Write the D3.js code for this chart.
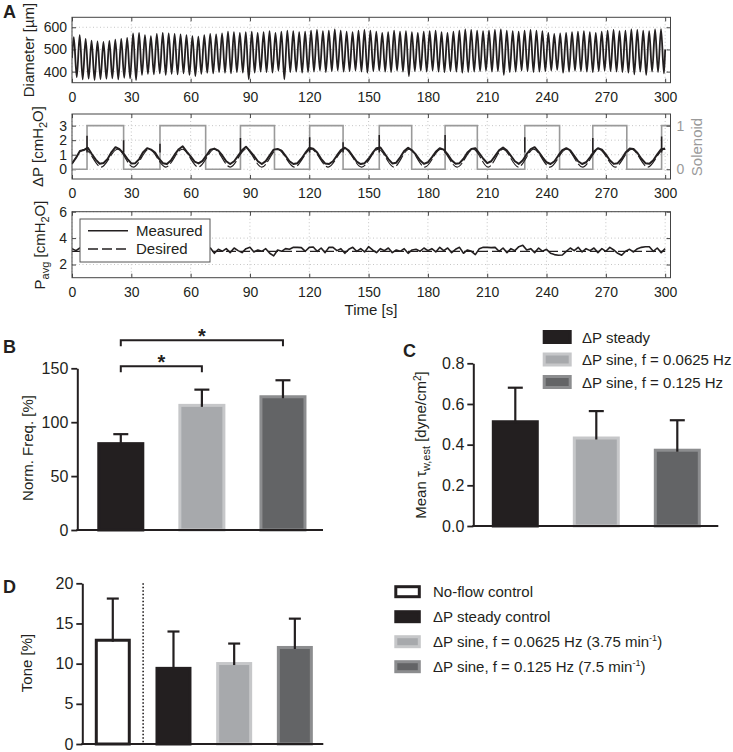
<!DOCTYPE html>
<html>
<head>
<meta charset="utf-8">
<script src="https://cdn.jsdelivr.net/npm/d3@7"></script>
<style>
  body { margin: 0; background: #fff; }
  svg { font-family: "Liberation Sans", Arial, Helvetica, sans-serif; }
</style>
</head>
<body>
<svg id="fig" width="733" height="752"></svg>
<script>
// ---- panel A : time traces ----
const timeTicks = [0, 30, 60, 90, 120, 150, 180, 210, 240, 270, 300];
const diamTicks = [400, 500, 600];
const dpTicks = [0, 1, 2, 3];
const solenoidTicks = [0, 1];
const pavgTicks = [2, 4, 6];

// diameter oscillation: one peak and one trough per ~3 s cycle
const diamCycle = 3;
const diamStart = 460;
const diamPeaks = [
  555, 565, 548, 540, 536, 534, 538, 544, 548, 552,
  572, 575, 565, 560, 570, 575, 572, 570, 568, 565,
  560, 558, 565, 570, 568, 572, 580, 578, 575, 578,
  580, 575, 578, 582, 575, 580, 585, 582, 578, 580,
  585, 588, 582, 585, 590, 585, 580, 578, 585, 588,
  585, 580, 575, 578, 585, 580, 582, 578, 575, 580,
  582, 585, 578, 575, 580, 585, 590, 588, 585, 582,
  585, 588, 590, 585, 582, 580, 585, 588, 585, 582,
  575, 570, 572, 575, 578, 580, 582, 578, 575, 580,
  585, 588, 582, 585, 590, 588, 585, 582, 590, 592
];
const diamTroughs = [
  375, 365, 368, 362, 366, 368, 370, 365, 372, 370,
  362, 385, 390, 388, 392, 385, 390, 388, 392, 385,
  380, 390, 395, 392, 398, 395, 392, 398, 395, 365,
  395, 400, 398, 395, 405, 365, 398, 400, 395, 398,
  400, 405, 398, 402, 405, 400, 402, 405, 400, 395,
  402, 405, 400, 398, 405, 400, 380, 402, 405, 400,
  405, 400, 398, 402, 400, 395, 398, 400, 402, 405,
  400, 402, 385, 398, 400, 405, 402, 398, 400, 402,
  405, 408, 395, 400, 405, 402, 400, 398, 402, 405,
  402, 400, 398, 395, 388, 400, 385, 400, 398, 392
];

// solenoid switching times [s]: on, off, on, off, ...
const solenoidSwitchT = [7.6, 26.1, 44.5, 67.6, 85.2, 102.4, 120.2, 137.1, 155.4,
  171.8, 188.7, 205.0, 229.0, 246.6, 263.4, 280.6, 298.2];

// measured ΔP, sampled every 2 s
const dpStep = 2;
const dpMeasured = [
  0.40, 0.78, 1.25, 1.32, 1.48, 1.05, 0.66, 0.38, 0.43, 0.70, 1.18,
  1.52, 1.38, 1.10, 0.72, 0.40, 0.42, 0.70, 1.18, 1.45, 1.35,
  1.15, 0.72, 0.42, 0.36, 0.60, 1.02, 1.38, 1.58, 1.22, 0.88,
  0.52, 0.40, 0.58, 0.95, 1.35, 1.42, 1.28, 0.95, 0.55, 0.36,
  0.55, 0.92, 1.30, 1.55, 1.25, 0.92, 0.55, 0.36, 0.56, 0.95,
  1.35, 1.40, 1.28, 0.92, 0.55, 0.36, 0.42, 0.72, 1.12, 1.48,
  1.42, 1.15, 0.72, 0.40, 0.36, 0.55, 0.95, 1.32, 1.48, 1.28,
  0.90, 0.52, 0.36, 0.42, 0.72, 1.12, 1.45, 1.50, 1.10, 0.70,
  0.40, 0.45, 0.82, 1.25, 1.48, 1.30, 1.00, 0.62, 0.37, 0.48,
  0.82, 1.20, 1.45, 1.35, 1.02, 0.62, 0.38, 0.42, 0.72, 1.15,
  1.40, 1.45, 1.10, 0.72, 0.42, 0.55, 0.92, 1.30, 1.50, 1.28,
  0.92, 0.55, 0.37, 0.62, 1.05, 1.38, 1.52, 1.20, 0.82, 0.48,
  0.36, 0.55, 0.95, 1.32, 1.45, 1.30, 0.92, 0.55, 0.36, 0.48,
  0.82, 1.22, 1.45, 1.35, 1.02, 0.62, 0.37, 0.42, 0.72, 1.15,
  1.42, 1.40, 1.12, 0.72, 0.42, 0.38, 0.62, 1.02, 1.38, 1.42
];
// pressure spikes at the valve switches
const dpSpikeT = [7.6, 26.1, 44.5, 85.2, 120.2, 137.1, 155.4, 188.7, 229.0, 263.4, 298.2];
const dpSpikeV = [2.3, 2.0, 1.75, 2.15, 2.2, 1.85, 2.35, 2.35, 2.2, 2.15, 2.25];
// desired ΔP turning points
const dpDesiredT = [0, 6.5, 14.75, 23, 31, 39, 47.4, 55.8, 63.9, 72, 80, 88, 96, 104,
  112.5, 121, 129.5, 138, 146.5, 155, 162.75, 170.5, 178.5, 186.5, 194.75, 203, 210.5,
  218, 225.75, 233.5, 241.75, 250, 258.25, 266.5, 274.75, 283, 291.25, 299.5];
const dpDesiredV = [0.35, 1.38, 0.15, 1.38, 0.15, 1.38, 0.15, 1.38, 0.15, 1.38, 0.15,
  1.38, 0.15, 1.38, 0.15, 1.38, 0.15, 1.38, 0.15, 1.38, 0.15, 1.38, 0.15, 1.38, 0.15,
  1.38, 0.15, 1.38, 0.15, 1.38, 0.15, 1.38, 0.15, 1.38, 0.15, 1.38, 0.15, 1.38];

// measured mean pressure, every 2 s
const pavgStep = 2;
const pavgMeasured = [
  3.2, 3.05, 3.25, 3.1, 2.95, 3.2, 3.05, 3.15, 2.9, 3.1, 3.2,
  3.0, 3.15, 2.95, 3.2, 3.05, 3.25, 3.0, 3.1, 2.9, 3.15,
  3.05, 3.2, 2.95, 3.1, 3.25, 3.0, 3.15, 2.9, 3.1, 3.2,
  3.05, 2.95, 3.2, 3.0, 3.25, 2.85, 3.15, 3.0, 3.2, 2.9,
  3.25, 3.05, 2.9, 3.2, 3.3, 2.95, 3.1, 3.0, 3.2, 2.85,
  2.65, 3.1, 3.0, 3.2, 3.15, 3.3, 3.3, 3.28, 3.0, 3.3,
  3.32, 3.0, 3.25, 2.9, 3.3, 3.3, 3.05, 3.2, 2.85, 3.15,
  3.3, 3.0, 3.2, 2.95, 3.35, 3.1, 2.9, 3.2, 3.05, 3.25,
  2.9, 3.1, 3.0, 3.2, 2.85, 3.1, 3.15, 3.0, 3.25, 3.05,
  3.2, 2.95, 3.3, 3.05, 3.25, 2.9, 3.15, 3.3, 2.85, 3.1,
  3.0, 2.75, 3.2, 3.3, 3.3, 3.28, 3.3, 3.0, 3.25, 2.9,
  3.2, 3.05, 3.35, 3.45, 3.1, 3.2, 2.9, 3.25, 3.0, 3.15,
  2.85, 2.75, 2.7, 2.72, 3.0, 3.25, 3.05, 3.3, 2.95, 3.2,
  3.05, 3.25, 2.9, 3.2, 3.0, 3.3, 3.1, 2.85, 2.7, 3.0,
  3.15, 2.95, 3.2, 3.3, 3.35, 3.35, 3.0, 3.25, 2.9, 3.2
];
const pavgDesired = 3;

// ---- panels B, C, D : bar charts ----
const flowGroups = ['ΔP steady', 'ΔP sine, f = 0.0625 Hz', 'ΔP sine, f = 0.125 Hz'];
const freqMean = [81.5, 117, 125];
const freqSem = [7.4, 13.2, 13.9];
const freqTicks = [0, 50, 100, 150];
const sigFrom = [0, 0];
const sigTo = [1, 2];
const sigLevel = [152, 176];
const shearMean = [0.52, 0.44, 0.38];
const shearSem = [0.16, 0.125, 0.14];
const shearTicks = [0, 0.2, 0.4, 0.6, 0.8];
const toneGroups = ['No-flow control', 'ΔP steady control',
  'ΔP sine, f = 0.0625 Hz (3.75 min', 'ΔP sine, f = 0.125 Hz (7.5 min'];
const toneSup = ['', '', '-1', '-1'];
const toneMean = [13.1, 9.6, 10.2, 12.2];
const toneSem = [5.0, 4.4, 2.3, 3.4];
const toneTicks = [0, 5, 10, 15, 20];

const ink = '#231f20';
const barFill = ['#231f20', '#a7a9ac', '#636466'];
const barEdge = ['#231f20', '#c6c7c9', '#8c8d8f'];
const toneFill = ['#ffffff', '#231f20', '#a7a9ac', '#636466'];
const toneEdge = ['#231f20', '#231f20', '#c6c7c9', '#8c8d8f'];

const svg = d3.select('#fig');
svg.append('rect').attr('width', 733).attr('height', 752).attr('fill', '#fff');

function panelLabel(txt, x, y) {
  svg.append('text').attr('x', x).attr('y', y)
    .attr('font-size', 18).attr('font-weight', 'bold').attr('fill', ink).text(txt);
}

// rotated axis title; parts = [{t, dy, size}]
function yTitle(cx, cy, parts, size, color) {
  const t = svg.append('text')
    .attr('transform', `translate(${cx + size * 0.35},${cy}) rotate(-90)`)
    .attr('text-anchor', 'middle').attr('font-size', size).attr('fill', color || ink);
  parts.forEach(p => {
    t.append('tspan').attr('dy', p.dy || null).attr('font-size', p.size || null).text(p.t);
  });
}

function styleAxis(sel, size, color) {
  sel.attr('font-family', null).attr('font-size', size);
  sel.select('.domain').remove();
  sel.selectAll('text').attr('fill', color || ink);
  sel.selectAll('.tick line').attr('stroke', '#444');
}

// ---------------- Panel A ----------------
const xTime = d3.scaleLinear().domain([0, 302.7]).range([72, 670.5]);
const [ax0, ax1] = xTime.range();

function timeFrame(id, top, bottom, yDomain, yTicks, rightTicks) {
  const y = d3.scaleLinear().domain(yDomain).range([bottom, top]);
  const g = svg.append('g');
  g.append('clipPath').attr('id', id).append('rect')
    .attr('x', ax0).attr('y', top).attr('width', ax1 - ax0).attr('height', bottom - top);

  const grid = g.append('g').attr('stroke', '#b8b8b8').attr('stroke-width', 0.8)
    .attr('stroke-dasharray', '1,2.5');
  grid.selectAll('.gx').data(timeTicks).join('line')
    .attr('x1', d => xTime(d)).attr('x2', d => xTime(d)).attr('y1', top).attr('y2', bottom);
  grid.selectAll('.gy').data(yTicks).join('line')
    .attr('x1', ax0).attr('x2', ax1).attr('y1', d => y(d)).attr('y2', d => y(d));

  g.append('g').attr('transform', `translate(0,${bottom})`)
    .call(d3.axisBottom(xTime).tickValues(timeTicks).tickSize(-4).tickPadding(9))
    .call(s => styleAxis(s, 14));
  g.append('g').attr('transform', `translate(0,${top})`)
    .call(d3.axisTop(xTime).tickValues(timeTicks).tickSize(-4).tickFormat(''))
    .call(s => styleAxis(s, 14));
  g.append('g').attr('transform', `translate(${ax0},0)`)
    .call(d3.axisLeft(y).tickValues(yTicks).tickFormat(d3.format('d')).tickSize(-4).tickPadding(5))
    .call(s => styleAxis(s, 14));
  if (rightTicks) {
    g.append('g').attr('transform', `translate(${ax1},0)`)
      .call(d3.axisRight(y).tickValues(yTicks).tickSize(-4).tickFormat(''))
      .call(s => styleAxis(s, 14));
  }
  const traces = g.append('g').attr('clip-path', `url(#${id})`);
  g.append('rect').attr('x', ax0).attr('y', top).attr('width', ax1 - ax0)
    .attr('height', bottom - top).attr('fill', 'none').attr('stroke', '#444').attr('stroke-width', 1);
  return { y, g, traces };
}

// A1 diameter
const a1 = timeFrame('clipA1', 17.3, 82.7, [350, 645], diamTicks, true);
const diamPts = [[0, diamStart]];
diamPeaks.forEach((p, i) => {
  diamPts.push([i * diamCycle + 0.9, p]);
  diamPts.push([i * diamCycle + 2.4, diamTroughs[i]]);
});
diamPts.push([300, 500]);
a1.traces.append('path').datum(diamPts)
  .attr('d', d3.line().x(d => xTime(d[0])).y(d => a1.y(d[1])).curve(d3.curveMonotoneX))
  .attr('fill', 'none').attr('stroke', ink).attr('stroke-width', 1.8);
yTitle(29, 50, [{ t: 'Diameter [µm]' }], 15);

// A2 ΔP + solenoid
const a2 = timeFrame('clipA2', 114, 179, [-0.67, 3.8], dpTicks, false);
const ySol = d3.scaleLinear().domain([0, 1]).range([a2.y(0), a2.y(3)]);
const solPts = [[0, 0]];
solenoidSwitchT.forEach((t, i) => solPts.push([t, i % 2 === 0 ? 1 : 0]));
solPts.push([302.7, solPts[solPts.length - 1][1]]);
a2.traces.append('path').datum(solPts)
  .attr('d', d3.line().x(d => xTime(d[0])).y(d => ySol(d[1])).curve(d3.curveStepAfter))
  .attr('fill', 'none').attr('stroke', '#9a9a9a').attr('stroke-width', 1.6);
a2.traces.append('path').datum(dpDesiredT.map((t, i) => [t, dpDesiredV[i]]).concat([[300, 1.36]]))
  .attr('d', d3.line().x(d => xTime(d[0])).y(d => a2.y(d[1])).curve(d3.curveMonotoneX))
  .attr('fill', 'none').attr('stroke', ink).attr('stroke-width', 1.1).attr('stroke-dasharray', '12,3');
a2.traces.append('path').datum(dpMeasured.map((v, i) => [i * dpStep, v]))
  .attr('d', d3.line().x(d => xTime(d[0])).y(d => a2.y(d[1])))
  .attr('fill', 'none').attr('stroke', ink).attr('stroke-width', 2).attr('stroke-linejoin', 'round');
a2.traces.selectAll('.spike').data(dpSpikeT).join('line')
  .attr('x1', d => xTime(d)).attr('x2', d => xTime(d))
  .attr('y1', a2.y(1.15)).attr('y2', (d, i) => a2.y(dpSpikeV[i]))
  .attr('stroke', ink).attr('stroke-width', 1.5);
a2.g.append('g').attr('transform', `translate(${ax1},0)`)
  .call(d3.axisRight(ySol).tickValues(solenoidTicks).tickFormat(d3.format('d')).tickSize(-4).tickPadding(6))
  .call(s => styleAxis(s, 14, '#9a9a9a'));
yTitle(38, 146.5, [{ t: 'ΔP [cmH' }, { t: '2', dy: 4, size: 11 }, { t: 'O]', dy: -4 }], 15);
yTitle(697, 147, [{ t: 'Solenoid' }], 15, '#9a9a9a');

// A3 mean pressure
const a3 = timeFrame('clipA3', 211.7, 277.7, [1, 6], pavgTicks, true);
a3.traces.append('line').attr('x1', xTime(0)).attr('x2', xTime(300))
  .attr('y1', a3.y(pavgDesired)).attr('y2', a3.y(pavgDesired))
  .attr('stroke', ink).attr('stroke-width', 1.2).attr('stroke-dasharray', '10,4');
a3.traces.append('path').datum(pavgMeasured.map((v, i) => [i * pavgStep, v]))
  .attr('d', d3.line().x(d => xTime(d[0])).y(d => a3.y(d[1])))
  .attr('fill', 'none').attr('stroke', ink).attr('stroke-width', 1.6).attr('stroke-linejoin', 'round');
yTitle(40, 245, [{ t: 'P' }, { t: 'avg', dy: 4, size: 11 }, { t: ' [cmH', dy: -4 }, { t: '2', dy: 4, size: 11 }, { t: 'O]', dy: -4 }], 15);
// legend
const lg = a3.g.append('g');
lg.append('rect').attr('x', 80).attr('y', 219).attr('width', 130).attr('height', 43)
  .attr('fill', '#fff').attr('stroke', '#555').attr('stroke-width', 1);
lg.append('line').attr('x1', 88).attr('x2', 128).attr('y1', 230.7).attr('y2', 230.7)
  .attr('stroke', ink).attr('stroke-width', 1.6);
lg.append('line').attr('x1', 88).attr('x2', 128).attr('y1', 249).attr('y2', 249)
  .attr('stroke', ink).attr('stroke-width', 1.4).attr('stroke-dasharray', '10,4');
lg.append('text').attr('x', 136).attr('y', 236).attr('font-size', 15).attr('fill', ink).text('Measured');
lg.append('text').attr('x', 136).attr('y', 254).attr('font-size', 15).attr('fill', ink).text('Desired');

svg.append('text').attr('x', 371).attr('y', 315).attr('text-anchor', 'middle')
  .attr('font-size', 15).attr('fill', ink).text('Time [s]');
panelLabel('A', 3, 18);

// ---------------- Bar panels ----------------
function barPanel(o) {
  const n = o.mean.length;
  const x = d3.scaleBand().domain(d3.range(n)).range(o.band)
    .paddingInner(o.pad).paddingOuter(o.pad / 2);
  const y = d3.scaleLinear().domain(o.yDomain).range([o.bottom, o.top]);
  const g = svg.append('g');
  const bw = x.bandwidth();
  const sw = o.edgeWidth;

  g.selectAll('.bar').data(o.mean).join('rect')
    .attr('x', (d, i) => x(i) + sw / 2)
    .attr('y', d => y(d) + sw / 2)
    .attr('width', bw - sw)
    .attr('height', d => y(0) - y(d) - sw / 2)
    .attr('fill', (d, i) => o.fill[i])
    .attr('stroke', (d, i) => o.edge[i])
    .attr('stroke-width', sw);

  const err = g.append('g').attr('stroke', ink).attr('stroke-width', 2.2);
  o.mean.forEach((m, i) => {
    const cx = x(i) + bw / 2;
    err.append('line').attr('x1', cx).attr('x2', cx)
      .attr('y1', y(m) + sw).attr('y2', y(m + o.sem[i]));
    err.append('line').attr('x1', cx - o.cap / 2).attr('x2', cx + o.cap / 2)
      .attr('y1', y(m + o.sem[i])).attr('y2', y(m + o.sem[i]));
  });

  g.append('g').attr('transform', `translate(${o.axisX},0)`)
    .call(d3.axisLeft(y).tickValues(o.ticks).tickFormat(o.fmt).tickSize(6).tickSizeOuter(0).tickPadding(3))
    .call(s => {
      s.attr('font-family', null).attr('font-size', 16);
      s.select('.domain').attr('stroke', ink).attr('stroke-width', 2);
      s.selectAll('.tick line').attr('stroke', ink).attr('stroke-width', 1.8);
      s.selectAll('text').attr('fill', ink);
    });
  g.append('line').attr('x1', o.axisX - 1).attr('x2', o.xEnd)
    .attr('y1', y(0)).attr('y2', y(0)).attr('stroke', ink).attr('stroke-width', 2.2);
  return { x, y, g, bw };
}

// B
const pB = barPanel({
  band: [80.25, 323.5], pad: 0.42, top: 368.3, bottom: 530, yDomain: [0, 150],
  ticks: freqTicks, fmt: d3.format('d'), mean: freqMean, sem: freqSem,
  fill: barFill, edge: barEdge, edgeWidth: 3, cap: 15, axisX: 77.3, xEnd: 323
});
sigFrom.forEach((a, k) => {
  const xa = pB.x(a) + pB.bw / 2, xb = pB.x(sigTo[k]) + pB.bw / 2;
  const yb = pB.y(sigLevel[k]);
  pB.g.append('path')
    .attr('d', `M${xa},${yb + 6}V${yb}H${xb}V${yb + 6}`)
    .attr('fill', 'none').attr('stroke', ink).attr('stroke-width', 2);
  pB.g.append('text').attr('x', (xa + xb) / 2).attr('y', yb + 3).attr('text-anchor', 'middle')
    .attr('font-size', 20).attr('font-weight', 'bold').attr('fill', ink).text('*');
});
yTitle(28, 448, [{ t: 'Norm. Freq. [%]' }], 15);
panelLabel('B', 3, 353);

// C
const pC = barPanel({
  band: [474.8, 717.8], pad: 0.42, top: 363.3, bottom: 526, yDomain: [0, 0.8],
  ticks: shearTicks, fmt: d3.format('.1f'), mean: shearMean, sem: shearSem,
  fill: barFill, edge: barEdge, edgeWidth: 3, cap: 15, axisX: 473.3, xEnd: 718.3
});
yTitle(421, 445, [{ t: 'Mean τ' }, { t: 'w,est', dy: 4, size: 11 }, { t: ' [dyne/cm', dy: -4 },
  { t: '2', dy: -5, size: 10 }, { t: ']', dy: 5 }], 15);
panelLabel('C', 403, 357);
const lgC = svg.append('g');
flowGroups.forEach((name, i) => {
  const cy = 337 + i * 22.5;
  lgC.append('rect').attr('x', 544.2).attr('y', cy - 5.5).attr('width', 26).attr('height', 11)
    .attr('fill', barFill[i]).attr('stroke', barEdge[i]).attr('stroke-width', 3);
  lgC.append('text').attr('x', 582).attr('y', cy + 5.5).attr('font-size', 15).attr('fill', ink).text(name);
});

// D
const pD = barPanel({
  band: [82.45, 325.2], pad: 0.407, top: 583.3, bottom: 744, yDomain: [0, 20],
  ticks: toneTicks, fmt: d3.format('d'), mean: toneMean, sem: toneSem,
  fill: toneFill, edge: toneEdge, edgeWidth: 3, cap: 12, axisX: 82.3, xEnd: 323.3
});
const sepX = (pD.x(0) + pD.bw + pD.x(1)) / 2;
pD.g.append('line').attr('x1', sepX).attr('x2', sepX).attr('y1', pD.y(20)).attr('y2', pD.y(0))
  .attr('stroke', ink).attr('stroke-width', 1.6).attr('stroke-dasharray', '1.5,2');
yTitle(27, 663, [{ t: 'Tone [%]' }], 15);
panelLabel('D', 3, 593);
const lgD = svg.append('g');
toneGroups.forEach((name, i) => {
  const cy = 591.7 + i * 25;
  lgD.append('rect').attr('x', 395.8).attr('y', cy - 5).attr('width', 23.5).attr('height', 10)
    .attr('fill', toneFill[i]).attr('stroke', toneEdge[i]).attr('stroke-width', 3);
  const t = lgD.append('text').attr('x', 433).attr('y', cy + 5.5).attr('font-size', 15).attr('fill', ink);
  t.append('tspan').text(name);
  if (toneSup[i]) {
    t.append('tspan').attr('dy', -6).attr('font-size', 9).text(toneSup[i]);
    t.append('tspan').attr('dy', 6).text(')');
  }
});
</script>
</body>
</html>
